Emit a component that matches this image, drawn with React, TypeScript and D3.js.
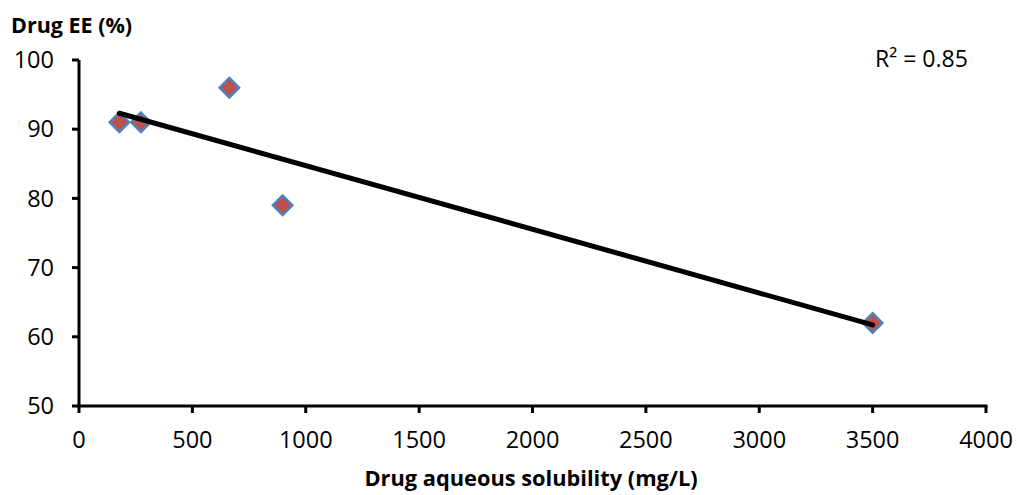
import React from "react";
import * as d3 from "d3";

const solubility = [178, 273, 663, 898, 3500];
const drugEE = [91, 91, 96, 79, 62];
const xTicks = [0, 500, 1000, 1500, 2000, 2500, 3000, 3500, 4000];
const yTicks = [50, 60, 70, 80, 90, 100];
const xTitle = "Drug aqueous solubility (mg/L)";
const yTitle = "Drug EE (%)";

const W = 1017;
const H = 495;
const FONT = "'Open Sans', sans-serif";

export default function App() {
  const x = d3.scaleLinear().domain([0, 4000]).range([79, 986]);
  const y = d3.scaleLinear().domain([50, 100]).range([406, 60]);

  const mx = d3.mean(solubility)!;
  const my = d3.mean(drugEE)!;
  let sxy = 0, sxx = 0, syy = 0;
  solubility.forEach((v, i) => {
    sxy += (v - mx) * (drugEE[i] - my);
    sxx += (v - mx) ** 2;
    syy += (drugEE[i] - my) ** 2;
  });
  const slope = sxy / sxx;
  const intercept = my - slope * mx;
  const r2 = (sxy * sxy) / (sxx * syy);
  const x0 = d3.min(solubility)!;
  const x1 = d3.max(solubility)!;
  const trend = d3.line<number>().x((d) => x(d)).y((d) => y(intercept + slope * d))([x0, x1]);

  const diamond = d3.symbol().type(d3.symbolDiamond2).size(240)();

  return (
    <svg width={W} height={H} style={{ position: "absolute", left: 0, top: 0 }}>
      <rect width={W} height={H} fill="#fff" />
      <text x={11} y={33} fontFamily={FONT} fontWeight="bold" fontSize={21.5} fill="#000">{yTitle}</text>
      {/* axes */}
      <line x1={79} x2={79} y1={y(100)} y2={y(50) + 1.5} stroke="#000" strokeWidth={3} />
      <line x1={x(0) - 1.5} x2={x(4000) + 1.5} y1={y(50)} y2={y(50)} stroke="#000" strokeWidth={3} />
      {yTicks.map((t) => (
        <g key={"y" + t}>
          <line x1={72} x2={79} y1={y(t)} y2={y(t)} stroke="#000" strokeWidth={3} />
          <text x={54} y={y(t)} dy="0.35em" textAnchor="end" fontFamily={FONT} fontSize={23.5} fill="#000">{t}</text>
        </g>
      ))}
      {xTicks.map((t) => (
        <g key={"x" + t}>
          <line x1={x(t)} x2={x(t)} y1={y(50)} y2={y(50) + 7} stroke="#000" strokeWidth={3} />
          <text x={x(t)} y={448} textAnchor="middle" fontFamily={FONT} fontSize={23.5} fill="#000">{t}</text>
        </g>
      ))}
      <text x={531} y={486} textAnchor="middle" fontFamily={FONT} fontWeight="bold" fontSize={21.8} fill="#000">{xTitle}</text>
      {solubility.map((v, i) => (
        <path key={i} d={diamond!} transform={`translate(${x(v)},${y(drugEE[i])})`} fill="#C0504D" stroke="#4F81BD" strokeWidth={2.5} />
      ))}
      <path d={trend!} stroke="#000" strokeWidth={5} fill="none" strokeLinecap="round" />
      <text x={875} y={67} fontFamily={FONT} fontSize={23} fill="#000">
        R² = {r2.toFixed(2)}
      </text>
    </svg>
  );
}
